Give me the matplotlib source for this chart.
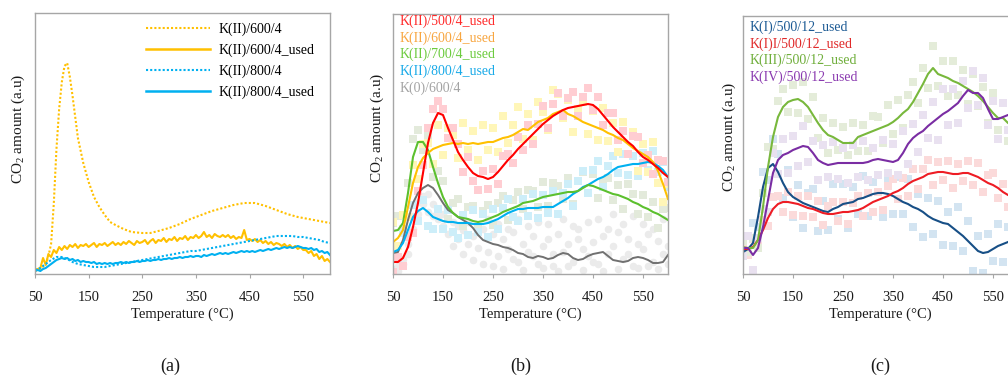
import numpy as np
import matplotlib
matplotlib.use("Agg")
import matplotlib.pyplot as plt
from matplotlib.lines import Line2D

plt.rcParams['font.family'] = ['Liberation Serif', 'DejaVu Serif']
plt.rcParams['mathtext.fontset'] = 'custom'
plt.rcParams['mathtext.rm'] = 'Liberation Serif'
plt.rcParams['mathtext.it'] = 'Liberation Serif:italic'

# ---------------- data ----------------
T10 = list(range(50, 601, 10))
T5 = list(range(50, 601, 5))
xticks = [50, 150, 250, 350, 450, 550]

# panel (a)
Ta_600 = [50, 60, 70, 75, 80, 85, 90, 95, 100, 105, 110, 115, 120, 130, 140, 150, 160, 170, 180, 190, 200,
          215, 230, 250, 265, 280, 300, 320, 340, 360, 380, 400, 420, 440, 460, 480, 500, 520, 540, 560, 580, 600]
a_600_4 = [3, 5, 10, 18, 30, 70, 125, 165, 192, 208, 211, 197, 178, 136, 111, 92, 77, 67, 59, 52, 49,
           45, 42, 41, 41, 43, 46, 50, 55, 59, 63, 66, 69, 71, 71, 68, 64, 60, 57, 55, 53, 51]
a_600_4_used = [4, 5, 6, 16, 9, 20, 17, 24, 21, 27, 24,
                28, 25, 29, 27, 30, 26, 29, 28, 30, 27,
                29, 31, 27, 30, 29, 31, 28, 30, 32, 29,
                31, 29, 32, 30, 33, 31, 29, 33, 31, 32,
                34, 30, 33, 35, 31, 34, 33, 36, 32, 35,
                34, 37, 33, 36, 35, 38, 34, 37, 36, 39,
                36, 38, 42, 37, 39, 36, 40, 38, 37, 39,
                37, 39, 36, 38, 35, 37, 36, 44, 34, 35,
                33, 35, 32, 34, 31, 33, 30, 32, 29, 31,
                30, 28, 30, 27, 29, 26, 28, 25, 27, 24,
                24, 21, 23, 18, 20, 15, 18, 13, 15, 12]
a_800_4 = [4, 6, 10, 14, 17, 17, 15, 12, 10, 9, 8, 7, 7, 7, 8, 9, 10, 11, 12, 13, 14, 15, 16, 17, 18, 19,
           20, 21, 22, 23, 23, 24, 25, 26, 27, 28, 29, 30, 31, 32, 33, 34, 35, 36, 37, 38, 38, 38, 38, 37,
           37, 36, 35, 34, 32, 31]
a_800_4_used = [3, 4, 3, 5, 6, 8, 10, 12, 14, 15, 16,
                15, 16, 14, 15, 13, 14, 12, 13, 12, 12,
                11, 12, 10, 11, 10, 11, 10, 11, 10, 11,
                11, 12, 11, 12, 11, 12, 12, 13, 12, 13,
                13, 14, 13, 14, 14, 15, 14, 15, 15, 16,
                15, 16, 16, 17, 16, 17, 17, 18, 17, 18,
                18, 17, 19, 18, 19, 20, 19, 20, 21, 20,
                21, 20, 21, 22, 21, 22, 23, 22, 23, 22,
                23, 22, 23, 24, 23, 24, 25, 24, 25, 26,
                25, 26, 27, 26, 27, 26, 27, 28, 27, 26,
                26, 25, 26, 24, 25, 22, 23, 21, 22, 19]

# panel (b)
b_red = [12, 12, 16, 27, 47, 71, 101, 131, 151, 161, 159, 146, 134, 122, 114, 107, 101, 98, 97, 95, 97, 102,
         108, 114, 119, 125, 130, 135, 140, 145, 150, 154, 158, 161, 164, 166, 167, 168, 169, 170, 169, 165,
         159, 153, 147, 142, 137, 132, 128, 122, 117, 114, 110, 106, 101, 97]
b_orange = [32, 36, 44, 67, 91, 107, 116, 121, 125, 127, 129, 130, 131, 130, 131, 130, 131, 130, 131, 132,
            132, 134, 136, 137, 139, 142, 145, 144, 148, 152, 154, 156, 160, 162, 164, 160, 158, 155, 152,
            150, 148, 146, 144, 141, 139, 136, 134, 130, 126, 123, 120, 117, 112, 103, 90, 75]
b_green = [43, 44, 51, 81, 117, 132, 132, 124, 107, 91, 77, 67, 61, 57, 56, 55, 53, 52, 53, 55, 57, 59, 62,
           64, 66, 68, 71, 72, 73, 75, 77, 78, 79, 80, 81, 82, 82, 83, 86, 89, 88, 86, 84, 82, 80, 79, 77,
           75, 72, 70, 67, 65, 62, 60, 57, 54]
b_blue = [22, 24, 31, 44, 57, 63, 66, 62, 57, 55, 53, 52, 52, 51, 51, 51, 50, 50, 50, 51, 53, 55, 58, 61,
          63, 65, 65, 66, 66, 66, 67, 67, 67, 70, 73, 76, 80, 83, 87, 89, 92, 95, 97, 100, 104, 107, 108,
          109, 110, 110, 111, 112, 111, 108, 104, 97]
b_gray = [21, 22, 34, 54, 71, 81, 86, 89, 86, 79, 71, 64, 61, 57, 54, 51, 46, 39, 34, 32, 30, 29, 27, 26,
          24, 21, 20, 17, 16, 18, 17, 15, 16, 19, 21, 20, 16, 14, 15, 18, 20, 21, 22, 18, 14, 13, 12, 13,
          16, 17, 16, 14, 11, 11, 12, 19]
# scatter residuals around each curve (read from the point clouds)
b_red_res = [-10, 5, -8, 10, -6, 12, 8, 15, 14, 12, 6, -10, 12, 8, -12, 10, -8, -14, 6, -10,
             8, -12, 10, 6, -8, 12, -6, 14, -10, 5, 18, -8, 12, 20, -6, 10, 15, -10, 8, 16,
             -5, 12, -10, 8, 14, -8, 6, -12, 10, 15, -6, 5, -10, 8, 12, -5]
b_orange_res = [20, -8, 15, -10, 18, -12, 14, 10, -15, 22, -10, 16, 8, -14, 20, -6, 12, -16, 18, -8,
                14, -12, 22, -6, 10, 25, -10, 16, -14, 20, 8, -12, 24, 18, -8, 14, -16, 10, 20, -10,
                15, -12, 22, -8, 12, -14, 18, -10, 16, -20, 10, -15, 20, -12, -18, 15]
b_green_res = [8, 14, -6, 10, 18, 12, -8, 15, -10, 12, 16, -12, 10, 18, -8, 12, 15, -6, 10, 14,
               -8, 12, 16, -10, 8, 14, -6, 12, 10, -8, 15, -10, 12, 8, -6, 14, -12, 10, 16, -8,
               12, -10, 8, 14, -6, 10, -12, 15, 8, -10, 12, -8, 10, -14, 8, 12]
b_blue_res = [6, -8, 10, -6, 12, -10, 8, -14, -12, 10, -8, 12, -10, -15, 8, -12, 14, -8, 10, -14,
              12, -10, 8, 14, -6, -12, 10, -8, 14, -10, 12, -6, 16, -10, 8, 14, -12, 10, 16, -8,
              12, 18, -10, 8, 14, -6, 12, -10, 8, -12, 10, -8, 12, -6, 8, -10]
b_gray_pts1 = [5, 8, 15, 30, 45, 60, 70, 62, 58, 55, 48, 40, 52, 35, 44, 30, 38, 26, 45, 22,
               40, 18, 35, 25, 42, 12, 30, 22, 38, 10, 28, 35, 8, 40, 22, 30, 12, 45, 25, 18,
               32, 10, 38, 20, 28, 42, 15, 35, 8, 30, 25, 40, 12, 33, 20, 28]
b_gray_pts2 = [2, 3, 10, 20, 58, 72, 78, 80, 70, 62, 60, 55, 28, 48, 20, 52, 14, 42, 10, 55,
               8, 50, 5, 45, 15, 55, 4, 48, 18, 52, 6, 50, 20, 3, 55, 8, 48, 35, 4, 52,
               12, 55, 3, 45, 60, 5, 50, 20, 58, 6, 50, 8, 45, 5, 55, 10]

# panel (c)
c_blue = [22, 25, 31, 57, 87, 106, 110, 102, 91, 82, 77, 74, 71, 69, 67, 65, 63, 62, 65, 67, 70, 71, 72,
          75, 76, 78, 80, 81, 81, 80, 78, 75, 72, 70, 67, 65, 62, 58, 55, 53, 51, 50, 46, 42, 38, 33, 28,
          23, 21, 22, 25, 28, 30, 32, 34, 36]
c_red = [25, 25, 27, 34, 44, 56, 65, 70, 72, 72, 71, 70, 68, 66, 65, 63, 61, 60, 60, 61, 62, 62, 63, 64,
         66, 69, 72, 74, 76, 78, 81, 83, 86, 90, 93, 95, 97, 100, 101, 102, 102, 101, 100, 100, 101, 101,
         99, 97, 94, 91, 89, 86, 82, 79, 77, 75]
c_green = [27, 26, 26, 34, 67, 107, 137, 157, 167, 172, 174, 175, 172, 167, 159, 151, 144, 139, 137, 134,
           131, 131, 131, 137, 139, 141, 143, 145, 147, 149, 152, 156, 161, 165, 172, 181, 190, 200, 206,
           200, 198, 196, 193, 191, 188, 185, 182, 178, 173, 167, 161, 156, 156, 151, 148, 145]
c_purple = [26, 26, 19, 26, 47, 74, 101, 114, 119, 121, 124, 126, 128, 127, 121, 114, 111, 109, 110, 111,
            111, 111, 111, 111, 111, 112, 114, 115, 114, 113, 112, 114, 121, 130, 136, 140, 143, 148, 152,
            156, 160, 163, 167, 171, 178, 184, 181, 181, 176, 165, 155, 155, 157, 159, 158, 157]
c_blue_res = [10, -6, 20, -10, 15, -12, 25, 18, -15, 22, -20, 15, -25, 12, 18, -22, 10, -18, 25, -12,
              20, -25, 15, -15, 22, -20, 12, 18, -24, 16, -18, 22, -12, 25, -20, 15, -25, 18, -15, 20,
              -22, 12, -18, 25, -15, 20, -25, 15, -20, 18, -12, 22, -18, 15, -10, 20]
c_red_res = [4, -6, 8, -5, 10, -8, 12, 8, -10, 10, -12, 8, -10, 12, -8, 10, -12, 8, 12, -8,
             10, -12, 8, 14, -8, 12, -10, 8, -12, 10, 14, -8, 10, -12, 12, -10, 8, 14, -12, 10,
             -8, 12, -14, 10, -8, 12, -10, 14, -12, 8, 12, -10, 8, -12, 10, -8]
c_green_res = [6, -4, 10, -8, 14, 20, -12, 16, 18, -10, 15, -14, 20, -12, 18, -15, 12, -18, 14, -10,
               16, -12, 20, -14, 10, -18, 15, 12, -16, 20, -12, 18, -15, 14, 20, -10, 16, -14, 22, -12,
               15, -18, 20, -12, 16, -15, 18, -10, 14, -16, 20, -12, 15, -18, 12, -10]
c_purple_res = [-8, 12, -15, 10, 18, -12, 20, -14, 16, -20, 14, -18, 20, -15, 12, -20, 18, -12, 22, -16,
                15, -20, 18, -14, 22, -18, 12, -16, 20, -12, 18, -15, 22, -20, 14, -18, 16, -12, 20, -22,
                25, -14, 18, -20, 15, -18, 22, -12, 20, -16, 18, -20, 14, -15, 12, -18]

labels_a = ["K(II)/600/4", "K(II)/600/4_used", "K(II)/800/4", "K(II)/800/4_used"]
labels_b = ["K(II)/500/4_used", "K(II)/600/4_used", "K(II)/700/4_used", "K(II)/800/4_used", "K(0)/600/4"]
labels_c = ["K(I)/500/12_used", "K(I)I/500/12_used", "K(III)/500/12_used", "K(IV)/500/12_used"]

# ---------------- figure ----------------
fig = plt.figure(figsize=(10.08, 3.78), dpi=100)
W, H = 1008.0, 378.0

def make_ax(left, top, right, bottom, ymax):
    ax = fig.add_axes([left / W, 1 - bottom / H, (right - left) / W, (bottom - top) / H])
    ax.set_xlim(50, 600)
    ax.set_ylim(0, ymax)
    ax.set_yticks([])
    ax.set_xticks(xticks)
    ax.tick_params(axis='x', direction='out', length=3, width=0.8, color='#a6a6a6',
                   labelsize=10.5, pad=9, labelcolor='#1a1a1a')
    for s in ax.spines.values():
        s.set_color('#a6a6a6')
        s.set_linewidth(1.0)
    ax.set_xlabel("Temperature (°C)", fontsize=10.5, color='#1a1a1a', labelpad=3)
    ax.set_ylabel("CO$_2$ amount (a.u)", fontsize=11, color='#1a1a1a')
    return ax

ORANGE = '#FFC000'
LBLUE = '#00B0F0'

# (a)
axa = make_ax(35, 13, 330, 274, 261)
axa.plot(Ta_600, a_600_4, color=ORANGE, lw=1.5, ls=(0, (1, 1)))
axa.plot(T5, a_600_4_used, color=ORANGE, lw=1.5)
axa.plot(T10, a_800_4, color=LBLUE, lw=1.5, ls=(0, (1, 1)))
axa.plot(T5, a_800_4_used, color=LBLUE, lw=1.5)
handles = [Line2D([], [], color=ORANGE, lw=1.5, ls=(0, (1, 1))),
           Line2D([], [], color=ORANGE, lw=1.8),
           Line2D([], [], color=LBLUE, lw=1.5, ls=(0, (1, 1))),
           Line2D([], [], color=LBLUE, lw=1.8)]
axa.legend(handles, labels_a, loc='upper right', frameon=False, fontsize=10,
           handlelength=4.6, handletextpad=0.6, labelspacing=0.55, borderaxespad=0,
           bbox_to_anchor=(0.965, 0.985))
axa.yaxis.set_label_coords(-0.026, 0.556)

# (b)
axb = make_ax(393, 14, 668, 274, 260)
sq = dict(marker='s', s=30, linewidths=0)
axb.scatter(T10, b_gray_pts1, color='#ebebeb', marker='o', s=30, linewidths=0)
axb.scatter(T10, b_gray_pts2, color='#ebebeb', marker='o', s=30, linewidths=0)
axb.scatter(T10, np.add(b_green, b_green_res), color='#e3eadb', **sq)
axb.scatter(T10, np.add(b_blue, b_blue_res), color='#cdeef9', **sq)
axb.scatter(T10, np.add(b_orange, b_orange_res), color='#fff6b8', **sq)
axb.scatter(T10, np.add(b_red, b_red_res), color='#ffcdd2', **sq)
axb.plot(T10, b_gray, color='#707070', lw=1.4)
axb.plot(T10, b_blue, color='#00B0F0', lw=1.5)
axb.plot(T10, b_green, color='#5CC02E', lw=1.5)
axb.plot(T10, b_orange, color=ORANGE, lw=1.5)
axb.plot(T10, b_red, color='#FF0000', lw=1.5)
cols_b = ['#ff2a2a', '#f8a640', '#6ccb3e', '#19aae8', '#a3a3a3']
for i, (lab, c) in enumerate(zip(labels_b, cols_b)):
    axb.text(0.022, 0.973 - i * 0.0645, lab, color=c, fontsize=10, transform=axb.transAxes,
             ha='left', va='center')
axb.yaxis.set_label_coords(-0.025, 0.56)

# (c)
axc = make_ax(743, 16, 1018, 274, 258)
axc.scatter(T10, np.add(c_blue, c_blue_res), color='#d3e4f1', **sq)
axc.scatter(T10, np.add(c_red, c_red_res), color='#fbdada', **sq)
axc.scatter(T10, np.add(c_green, c_green_res), color='#e4ecd9', **sq)
axc.scatter(T10, np.add(c_purple, c_purple_res), color='#e9e1f0', **sq)
axc.plot(T10, c_blue, color='#174f86', lw=1.5)
axc.plot(T10, c_red, color='#ee1c24', lw=1.5)
axc.plot(T10, c_green, color='#78b83c', lw=1.5)
axc.plot(T10, c_purple, color='#7a2da3', lw=1.5)
cols_c = ['#1c5a94', '#e02a2a', '#6fae3a', '#8a3ab0']
for i, (lab, c) in enumerate(zip(labels_c, cols_c)):
    axc.text(0.022, 0.957 - i * 0.065, lab, color=c, fontsize=10, transform=axc.transAxes,
             ha='left', va='center')
axc.yaxis.set_label_coords(-0.019, 0.53)

for x, lab in [(170, "(a)"), (521, "(b)"), (880, "(c)")]:
    fig.text(x / W, 1 - 366 / H, lab, fontsize=13, ha='center', va='center', color='#1a1a1a')

fig.savefig("out.png", dpi=100)
